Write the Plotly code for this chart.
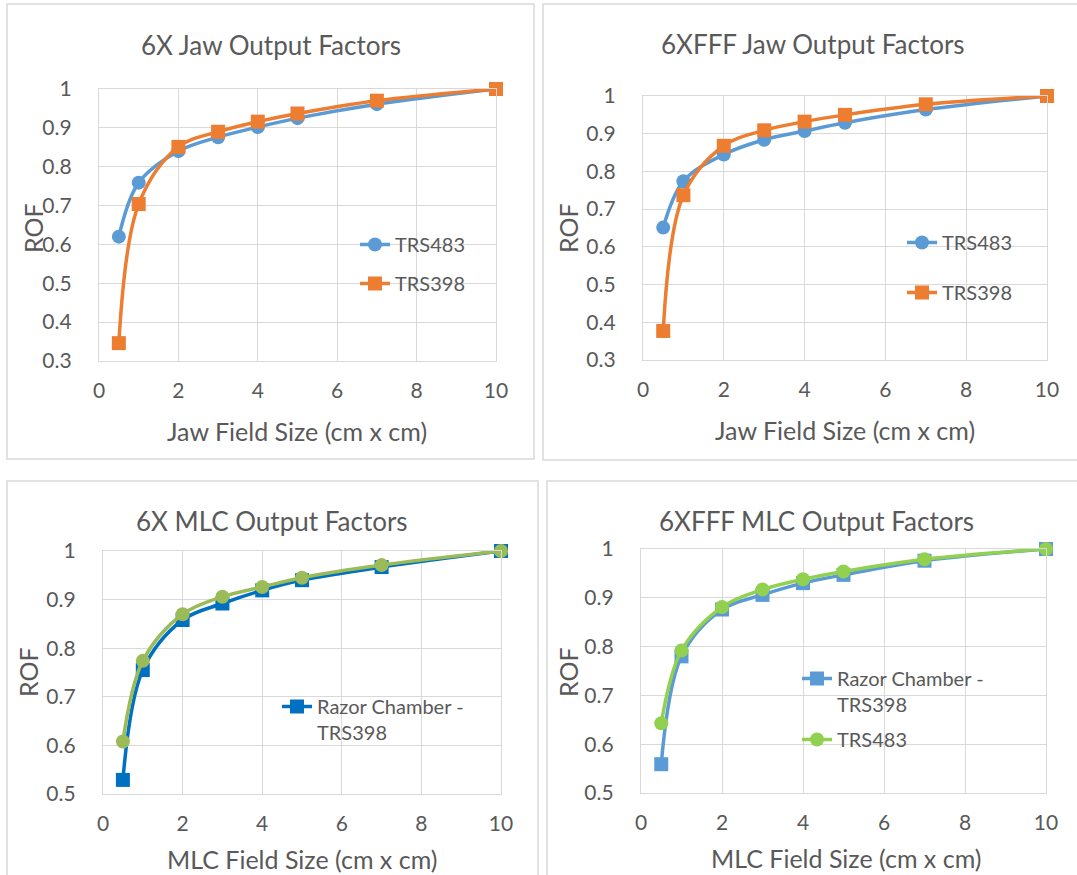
import plotly.graph_objects as go

# ---------------- data ----------------
field_sizes = [0.5, 1, 2, 3, 4, 5, 7, 10]

jaw_6x_trs483 = [0.620, 0.759, 0.840, 0.876, 0.902, 0.925, 0.961, 1.0]
jaw_6x_trs398 = [0.346, 0.704, 0.851, 0.890, 0.916, 0.937, 0.970, 1.0]

jaw_fff_trs483 = [0.651, 0.774, 0.845, 0.884, 0.907, 0.929, 0.964, 1.0]
jaw_fff_trs398 = [0.377, 0.737, 0.868, 0.909, 0.932, 0.950, 0.978, 1.0]

mlc_6x_razor = [0.529, 0.755, 0.858, 0.892, 0.919, 0.940, 0.967, 1.0]
mlc_6x_trs483 = [0.608, 0.774, 0.870, 0.906, 0.926, 0.945, 0.971, 1.0]

mlc_fff_razor = [0.559, 0.780, 0.876, 0.906, 0.930, 0.947, 0.976, 1.0]
mlc_fff_trs483 = [0.643, 0.792, 0.881, 0.917, 0.938, 0.954, 0.979, 1.0]

titles = ["6X Jaw Output Factors", "6XFFF Jaw Output Factors",
          "6X MLC Output Factors", "6XFFF MLC Output Factors"]
x_titles = ["Jaw Field Size (cm x cm)", "Jaw Field Size (cm x cm)",
            "MLC Field Size (cm x cm)", "MLC Field Size (cm x cm)"]
y_title = "ROF"
x_ticks = [0, 2, 4, 6, 8, 10]
y_ticks_jaw = [0.3, 0.4, 0.5, 0.6, 0.7, 0.8, 0.9, 1]
y_ticks_mlc = [0.5, 0.6, 0.7, 0.8, 0.9, 1]

# ---------------- styling ----------------
W, H = 1077, 875
FONT = "Lato"
TXT = "#595959"
GRID = "#D9D9D9"
BLUE = "#5B9BD5"
ORANGE = "#ED7D31"
DBLUE = "#0070C0"
OLIVE = "#9BBB59"
LGREEN = "#92D050"


def px(x):
    return x / W


def py(y):
    return 1 - y / H


# plot areas in pixels (x0, x1, ytop, ybottom)
areas = [(99, 496, 89, 361), (643, 1047, 96, 360),
         (103, 501, 551, 794), (641, 1046, 549, 793)]
# panel border rectangles in pixels (left, top, right, bottom)
panels = [(7, 4, 534, 459), (543, 4, 1084, 460),
          (7, 481, 538, 884), (547, 481, 1084, 884)]
# text positions (pixels)
title_pos = [(271, 45), (813, 44), (272, 521), (816, 521)]
xtitle_pos = [(297, 431), (845, 430), (302, 859), (846, 858)]
ytitle_pos = [(33, 228), (568, 228), (28, 672), (568, 672)]

fig = go.Figure()

series = [
    # (panel, x, y, name, color, symbol, legend, showlegend)
    (0, field_sizes, jaw_6x_trs483, "TRS483", BLUE, "circle", "legend", True),
    (0, field_sizes, jaw_6x_trs398, "TRS398", ORANGE, "square", "legend2", True),
    (1, field_sizes, jaw_fff_trs483, "TRS483", BLUE, "circle", "legend3", True),
    (1, field_sizes, jaw_fff_trs398, "TRS398", ORANGE, "square", "legend4", True),
    (2, field_sizes, mlc_6x_razor, "Razor Chamber -<br>TRS398", DBLUE, "square", "legend5", True),
    (2, field_sizes, mlc_6x_trs483, "TRS483", OLIVE, "circle", "legend5", False),
    (3, field_sizes, mlc_fff_razor, "Razor Chamber -<br>TRS398", BLUE, "square", "legend6", True),
    (3, field_sizes, mlc_fff_trs483, "TRS483", LGREEN, "circle", "legend7", True),
]

for p, xs, ys, name, col, sym, leg, show in series:
    sfx = "" if p == 0 else str(p + 1)
    fig.add_trace(go.Scatter(
        x=xs, y=ys, name=name, mode="lines+markers",
        line=dict(color=col, width=3.5, shape="spline", smoothing=1),
        marker=dict(color=col, size=14, symbol=sym),
        xaxis="x" + sfx, yaxis="y" + sfx, legend=leg, showlegend=show,
        cliponaxis=False,
    ))

layout = dict(
    width=W, height=H,
    margin=dict(l=0, r=0, t=0, b=0, pad=0, autoexpand=False),
    paper_bgcolor="white", plot_bgcolor="white",
    font=dict(family=FONT, color=TXT, size=20),
    shapes=[], annotations=[],
)

for i, (x0, x1, yt, yb) in enumerate(areas):
    sfx = "" if i == 0 else str(i + 1)
    yt_vals = y_ticks_jaw if i < 2 else y_ticks_mlc
    common = dict(showgrid=True, gridcolor=GRID, gridwidth=1.2,
                  showline=True, linecolor=GRID, linewidth=1.2, mirror=True,
                  zeroline=False, ticks="", tickfont=dict(size=21, color=TXT),
                  fixedrange=True, automargin=False)
    layout["xaxis" + sfx] = dict(
        domain=[px(x0), px(x1)], range=[0, 10], tickvals=x_ticks,
        anchor="y" + sfx, ticklabelstandoff=11, **common)
    layout["yaxis" + sfx] = dict(
        domain=[py(yb), py(yt)], range=[yt_vals[0], 1], tickvals=yt_vals,
        ticktext=[("%g" % v) for v in yt_vals],
        anchor="x" + sfx, ticklabelstandoff=22, **common)

    bx0, by0, bx1, by1 = panels[i]
    layout["shapes"].append(dict(
        type="rect", xref="paper", yref="paper",
        x0=px(bx0), x1=px(bx1), y0=py(by1), y1=py(by0),
        line=dict(color=GRID, width=1.5), fillcolor="rgba(0,0,0,0)", layer="below"))

    tx, ty = title_pos[i]
    layout["annotations"].append(dict(
        text=titles[i], x=px(tx), y=py(ty), xref="paper", yref="paper",
        xanchor="center", yanchor="middle", showarrow=False,
        font=dict(size=26, color=TXT)))
    ax, ay = xtitle_pos[i]
    layout["annotations"].append(dict(
        text=x_titles[i], x=px(ax), y=py(ay), xref="paper", yref="paper",
        xanchor="center", yanchor="middle", showarrow=False,
        font=dict(size=25, color=TXT)))
    rx, ry = ytitle_pos[i]
    layout["annotations"].append(dict(
        text=y_title, x=px(rx), y=py(ry), xref="paper", yref="paper",
        xanchor="center", yanchor="middle", showarrow=False, textangle=-90,
        font=dict(size=25, color=TXT)))

# legends: (marker centre x px, first-line centre y px)
legend_pos = {
    "legend": (375, 243), "legend2": (375, 282),
    "legend3": (922, 241), "legend4": (922, 291),
    "legend5": (297, 705),
    "legend6": (817, 677), "legend7": (817, 738),
}
for key, (mx, my) in legend_pos.items():
    layout[key] = dict(
        x=px(mx - 20), y=py(my - 18), xanchor="left", yanchor="top",
        bgcolor="rgba(0,0,0,0)", borderwidth=0, valign="top",
        font=dict(size=20, color=TXT, family=FONT), itemclick=False,
        itemdoubleclick=False, tracegroupgap=0)

fig.update_layout(**layout)
fig.write_html("out.html")
